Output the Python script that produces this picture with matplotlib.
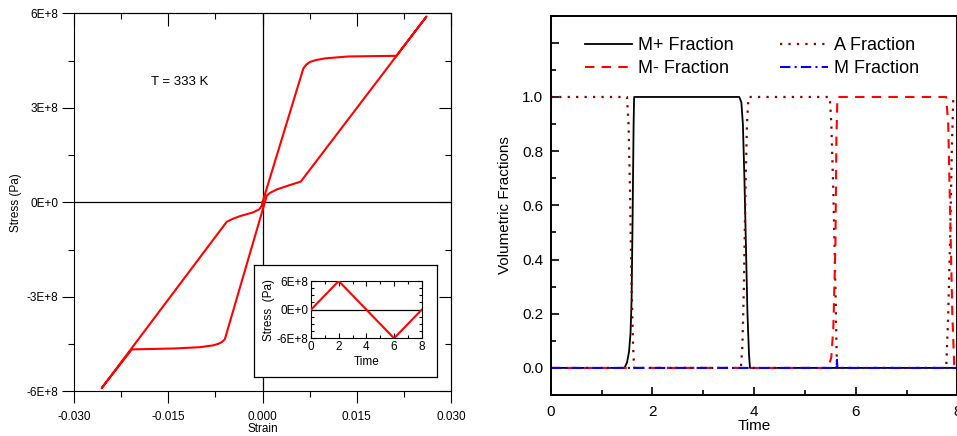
import matplotlib
matplotlib.use("Agg")
import matplotlib.pyplot as plt
from matplotlib.ticker import MultipleLocator

plt.rcParams['font.family'] = ['Liberation Sans', 'DejaVu Sans']

# stress-strain loop at T = 333 K (stress in units of 1E+8 Pa)
strain = [0.0000, 0.0065, 0.0070, 0.0076, 0.0086, 0.0100, 0.0137, 0.0213, 0.0261,
          0.0061, 0.0052, 0.0044, 0.0023, 0.0012, 0.0007,
          -0.0060, -0.0065, -0.0070, -0.0078, -0.0100, -0.0140, -0.0208, -0.0256,
          -0.0057, -0.0048, -0.0036, -0.0015, -0.0005, -0.0001, 0.0000]
stress = [0.00, 4.25, 4.38, 4.46, 4.52, 4.57, 4.63, 4.65, 5.90,
          0.66, 0.60, 0.55, 0.41, 0.30, 0.22,
          -4.35, -4.44, -4.49, -4.54, -4.60, -4.64, -4.67, -5.90,
          -0.62, -0.53, -0.44, -0.32, -0.22, -0.10, 0.00]

# inset: applied stress history
t_load = [0, 2, 6, 8]
s_load = [0, 6, -6, 0]

# volumetric fractions vs time
t_mp = [0, 1.45, 1.50, 1.54, 1.57, 1.59, 1.61, 1.63, 1.64, 3.71, 3.75, 3.78,
        3.81, 3.84, 3.87, 3.90, 3.92, 8.2]
f_mp = [0, 0, 0.02, 0.06, 0.13, 0.25, 0.55, 0.90, 1.0, 1.0, 0.98, 0.90,
        0.70, 0.45, 0.20, 0.05, 0, 0]
t_a = [0, 1.50, 1.53, 1.56, 1.59, 1.62, 1.64, 3.74, 3.77, 3.80, 3.83, 3.86,
       3.89, 5.49, 5.52, 5.56, 5.60, 5.63, 7.78, 7.82, 7.86, 7.89, 7.92, 8.2]
f_a = [1, 1, 0.90, 0.65, 0.30, 0.08, 0, 0, 0.08, 0.30, 0.65, 0.90,
       1, 1, 0.90, 0.65, 0.30, 0, 0, 0.20, 0.50, 0.80, 1, 1]
t_mm = [0, 5.46, 5.52, 5.56, 5.60, 5.62, 5.64, 7.78, 7.82, 7.86, 7.90, 7.94, 8.2]
f_mm = [0, 0, 0.04, 0.15, 0.45, 0.85, 1.0, 1.0, 0.90, 0.55, 0.20, 0, 0]
t_m = [0, 5.62, 5.63, 5.64, 8.2]
f_m = [0, 0, 0.03, 0, 0]

strain_ticks = [-0.030, -0.015, 0.000, 0.015, 0.030]
strain_labels = ['-0.030', '-0.015', '0.000', '0.015', '0.030']
stress_ticks = [-6, -3, 0, 3, 6]
stress_labels = ['-6E+8', '-3E+8', '0E+0', '3E+8', '6E+8']
frac_ticks = [0.0, 0.2, 0.4, 0.6, 0.8, 1.0, 1.2]
frac_labels = ['0.0', '0.2', '0.4', '0.6', '0.8', '1.0', '']

fig = plt.figure(figsize=(9.57, 4.36), dpi=100)

# ---- left: stress vs strain ----
ax = fig.add_axes([0.0773, 0.1025, 0.394, 0.867])
ax.plot(strain, stress, color='red', lw=1.5, zorder=3)
ax.axhline(0, color='black', lw=0.9)
ax.axvline(0, color='black', lw=0.9)
ax.set_xlim(-0.030, 0.030)
ax.set_ylim(-6, 6)
ax.set_xticks(strain_ticks)
ax.set_xticklabels(strain_labels)
ax.set_yticks(stress_ticks)
ax.set_yticklabels(stress_labels)
ax.xaxis.set_minor_locator(MultipleLocator(0.0075))
ax.yaxis.set_minor_locator(MultipleLocator(1.5))
ax.tick_params(which='major', direction='out', length=8.5, width=0.8, labelsize=8.5)
ax.tick_params(which='minor', direction='out', length=4.5, width=0.8)
ax.tick_params(axis='x', pad=6)
ax.tick_params(axis='y', pad=3)
for sp in ax.spines.values():
    sp.set_linewidth(0.8)
ax.set_xlabel('Strain', fontsize=8.5, labelpad=0)
ax.set_ylabel('Stress (Pa)', fontsize=8.5, labelpad=3)
ax.text(-0.0131, 3.83, 'T = 333 K', fontsize=9.5, ha='center', va='center')

# mirrored ticks on top and right, pointing inward
top = ax.secondary_xaxis('top')
top.set_xticks(strain_ticks)
top.xaxis.set_minor_locator(MultipleLocator(0.0075))
top.tick_params(which='major', direction='in', length=9, width=0.8, labeltop=False)
top.tick_params(which='minor', direction='in', length=4.5, width=0.8)
right = ax.secondary_yaxis('right')
right.set_yticks(stress_ticks)
right.yaxis.set_minor_locator(MultipleLocator(1.5))
right.tick_params(which='major', direction='in', length=9, width=0.8, labelright=False)
right.tick_params(which='minor', direction='in', length=4.5, width=0.8)

# inset frame and inset axes
frame = fig.add_axes([0.2657, 0.136, 0.1912, 0.2562], zorder=5)
frame.set_xticks([])
frame.set_yticks([])
for sp in frame.spines.values():
    sp.set_linewidth(0.9)

ins = fig.add_axes([0.325, 0.2241, 0.1157, 0.1314], zorder=6)
ins.plot(t_load, s_load, color='red', lw=1.5, zorder=3)
ins.axhline(0, color='black', lw=0.9)
ins.set_xlim(0, 8)
ins.set_ylim(-6, 6)
ins.set_xticks([0, 2, 4, 6, 8])
ins.set_yticks([-6, 0, 6])
ins.set_yticklabels(['-6E+8', '0E+0', '6E+8'])
ins.xaxis.set_minor_locator(MultipleLocator(1))
ins.yaxis.set_minor_locator(MultipleLocator(1.5))
ins.tick_params(which='both', direction='in', top=True, right=True, width=0.8, labelsize=8.5, pad=2)
ins.tick_params(which='major', length=3.5)
ins.tick_params(which='minor', length=2)
ins.set_xlabel('Time', fontsize=8.5, labelpad=2)
ins.set_ylabel('Stress  (Pa)', fontsize=8.5, labelpad=1)

# ---- right: volumetric fractions ----
bx = fig.add_axes([0.5755, 0.094, 0.4249, 0.870])
l_mp, = bx.plot(t_mp, f_mp, color='black', lw=1.3, label='M+ Fraction')
l_a, = bx.plot(t_a, f_a, color='#800000', lw=1.6, ls=(0, (1, 2.8)), label='A Fraction')
l_mm, = bx.plot(t_mm, f_mm, color='#FF0000', lw=1.5, ls=(0, (4.5, 3.5)), label='M- Fraction')
l_m, = bx.plot(t_m, f_m, color='#0000FF', lw=1.5, ls=(0, (5, 2, 1, 2)), label='M Fraction')
bx.set_xlim(0, 8)
bx.set_ylim(-0.1, 1.3)
bx.set_xticks([0, 2, 4, 6, 8])
bx.set_yticks(frac_ticks)
bx.set_yticklabels(frac_labels)
bx.xaxis.set_minor_locator(MultipleLocator(1))
bx.yaxis.set_minor_locator(MultipleLocator(0.1))
bx.tick_params(which='both', direction='in', width=1.2, labelsize=11)
bx.tick_params(which='major', length=6)
bx.tick_params(which='minor', length=3.5)
bx.tick_params(axis='x', pad=7)
bx.tick_params(axis='y', pad=5.5)
for sp in bx.spines.values():
    sp.set_linewidth(1.4)
bx.set_xlabel('Time', fontsize=11, labelpad=0)
bx.set_ylabel('Volumetric Fractions', fontsize=11, labelpad=7)
bx.legend(handles=[l_mp, l_mm, l_a, l_m], ncol=2, frameon=False, fontsize=13,
          loc='upper left', bbox_to_anchor=(0.083, 0.944), borderpad=0,
          borderaxespad=0, handlelength=2.65, handletextpad=0.3,
          columnspacing=2.6, labelspacing=0.33)

fig.savefig('out.png', dpi=100)
